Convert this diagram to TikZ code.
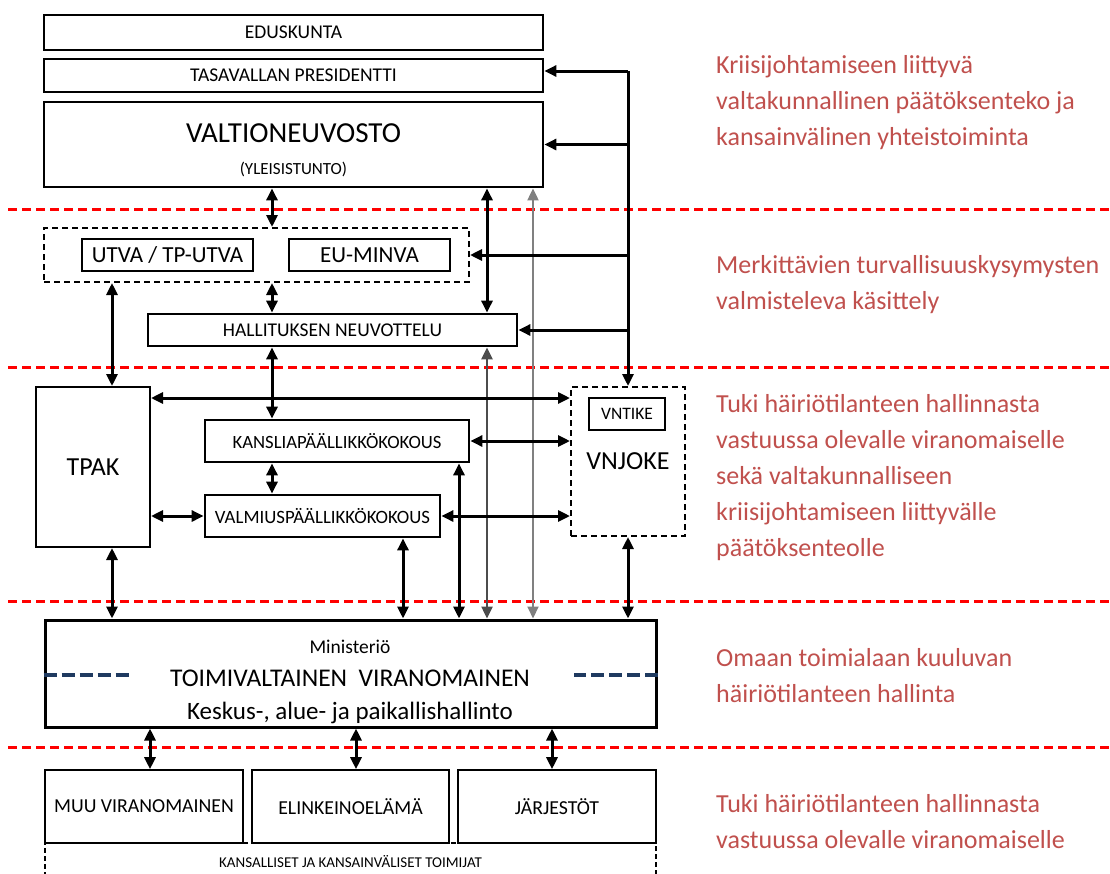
\documentclass[tikz,border=0pt]{standalone}
\usepackage{fontspec}
\setmainfont{Carlito}
\usetikzlibrary{arrows.meta}
\definecolor{crimson}{HTML}{C0504D}
\definecolor{navy}{HTML}{1F3A60}

\begin{document}
\begin{tikzpicture}[x=1pt,y=-1pt]
        \tikzset{box/.style = {draw, line width=2.8pt, inner sep=0pt, align=center},
            thinbox/.style = {draw, line width=1.6pt, inner sep=0pt},
            dashbox/.style = {draw, line width=2pt, dash pattern=on 6pt off 4pt, inner sep=0pt},
            link/.style = {{Triangle[length=12pt,width=11pt]}-{Triangle[length=12pt,width=11pt]}, line width=3pt},
            feed/.style = {-{Triangle[length=12pt,width=11pt]}, line width=3pt},
            level/.style = {red, line width=3pt, dash pattern=on 9pt off 5pt},
            note/.style = {crimson, align=left, anchor=base west, inner sep=0pt, font=\fontsize{26}{36}\selectfont}};
        \useasboundingbox (0,0) rectangle (1110,873);
        % tasot
        \foreach \y in {209,367,601,747}
            \draw[level] (8,\y) -- (1110,\y);
        % ylin taso
        \node[box, minimum width=499pt, minimum height=35pt, font=\fontsize{19.5}{22}\selectfont] (eduskunta) at (293.5,32.5) {EDUSKUNTA};
        \node[box, minimum width=499pt, minimum height=33pt, font=\fontsize{19.5}{22}\selectfont] (presidentti) at (293.5,75.5) {TASAVALLAN PRESIDENTTI};
        \node[box, minimum width=499pt, minimum height=85pt] (vn) at (293.5,144.5) {};
        \node[font=\fontsize{29}{32}\selectfont] (vnTitle) at (293.5,133) {VALTIONEUVOSTO};
        \node[font=\fontsize{17}{19}\selectfont] (vnSub) at (293.5,169) {(YLEISISTUNTO)};
        % valmistelu
        \node[dashbox, minimum width=425pt, minimum height=54pt] (valmistelu) at (256.5,255) {};
        \node[thinbox, minimum width=171pt, minimum height=32pt, font=\fontsize{23}{25}\selectfont] (utva) at (167.5,255) {UTVA / TP-UTVA};
        \node[thinbox, minimum width=161pt, minimum height=32pt, font=\fontsize{23}{25}\selectfont] (euminva) at (369.5,255) {EU-MINVA};
        \node[box, minimum width=369pt, minimum height=32pt, font=\fontsize{19.5}{22}\selectfont] (hallitus) at (332.5,330) {HALLITUKSEN NEUVOTTELU};
        % tuki
        \node[box, line width=2pt, minimum width=114pt, minimum height=160pt, font=\fontsize{26}{28}\selectfont] (tpak) at (93,467) {TPAK};
        \node[box, minimum width=264pt, minimum height=42pt, font=\fontsize{18.7}{21}\selectfont] (kanslia) at (337,441) {KANSLIAPÄÄLLIKKÖKOKOUS};
        \node[box, minimum width=235pt, minimum height=42pt, font=\fontsize{18.8}{21}\selectfont] (valmius) at (322.5,516) {VALMIUSPÄÄLLIKKÖKOKOUS};
        \node[dashbox, minimum width=114pt, minimum height=149pt, font=\fontsize{26}{28}\selectfont] (vnjoke) at (628,461.5) {VNJOKE};
        \node[thinbox, line width=2pt, minimum width=76pt, minimum height=32pt, font=\fontsize{17.5}{19}\selectfont] (vntike) at (627,414) {VNTIKE};
        % toimivaltainen
        \node[box, line width=3pt, minimum width=611pt, minimum height=107pt] (ministerio) at (350.5,673.5) {};
        \node[anchor=base, font=\fontsize{19.5}{22}\selectfont] (minTitle) at (350,653) {Ministeriö};
        \node[anchor=base, font=\fontsize{25.5}{28}\selectfont] (minMain) at (350,686) {TOIMIVALTAINEN\ \ VIRANOMAINEN};
        \node[anchor=base, font=\fontsize{25}{27}\selectfont] (minSub) at (350,719) {Keskus-, alue- ja paikallishallinto};
        \draw[navy, line width=4pt, dash pattern=on 13pt off 5pt] ([yshift=-1.5pt]ministerio.west) -- ++(85,0);
        \draw[navy, line width=4pt, dash pattern=on 13pt off 5pt] ([yshift=-1.5pt]ministerio.east) -- ++(-84,0);
        % muut toimijat
        \node[thinbox, minimum width=198pt, minimum height=73pt, font=\fontsize{19.8}{22}\selectfont] (muu) at (144,806.5) {MUU VIRANOMAINEN};
        \node[thinbox, minimum width=197pt, minimum height=73pt, font=\fontsize{19.8}{22}\selectfont] (elinkeino) at (350.5,806.5) {ELINKEINOELÄMÄ};
        \node[thinbox, minimum width=198pt, minimum height=73pt, font=\fontsize{19.8}{22}\selectfont] (jarjestot) at (557,806.5) {JÄRJESTÖT};
        \node[draw, line width=1.3pt, dash pattern=on 5pt off 3pt, inner sep=0pt, minimum width=611pt, minimum height=37pt, font=\fontsize{15}{16}\selectfont] (toimijat) at (350.5,861.5) {KANSALLISET JA KANSAINVÄLISET TOIMIJAT};
        % sarakkeet
        \coordinate (colTpak) at (112,0);
        \coordinate (colMid) at (272,0);
        \coordinate (colValm) at (403,0);
        \coordinate (colKans) at (459,0);
        \coordinate (colHall) at (487,0);
        \coordinate (colVn) at (533,0);
        \coordinate (colMuu) at (150,0);
        \coordinate (colElin) at (356,0);
        \coordinate (colJarj) at (552,0);
        \coordinate (bus) at (628,71);
        % yhteydet
        \draw[link] (colMid |- vn.south) -- (colMid |- valmistelu.north);
        \draw[link] (colMid |- valmistelu.south) -- (colMid |- hallitus.north);
        \draw[link] (colTpak |- valmistelu.south) -- (colTpak |- tpak.north);
        \draw[link] (colMid |- hallitus.south) -- (colMid |- kanslia.north);
        \draw[link] (colMid |- kanslia.south) -- (colMid |- valmius.north);
        \draw[link] (colHall |- vn.south) -- (colHall |- hallitus.north);
        \draw[link, black!70, line width=2.4pt] (colHall |- hallitus.south) -- (colHall |- ministerio.north);
        \draw[link, black!50, line width=2pt] (colVn |- vn.south) -- (colVn |- ministerio.north);
        \draw[link] (colTpak |- tpak.south) -- (colTpak |- ministerio.north);
        \draw[link] (colValm |- valmius.south) -- (colValm |- ministerio.north);
        \draw[link] (colKans |- kanslia.south) -- (colKans |- ministerio.north);
        \draw[link] (vnjoke.south) -- (vnjoke.south |- ministerio.north);
        \draw[link] ([yshift=-12pt]tpak.north east) -- ([yshift=-12pt]vnjoke.north west);
        \draw[link] (kanslia.east) -- (kanslia.east -| vnjoke.west);
        \draw[link] (tpak.east |- valmius.west) -- (valmius.west);
        \draw[link] (valmius.east) -- (valmius.east -| vnjoke.west);
        \draw[feed] (bus) -- (bus |- vnjoke.north);
        \draw[feed] (bus) -- (bus -| presidentti.east);
        \draw[feed] (bus |- vn.east) -- (vn.east);
        \draw[feed] (bus |- valmistelu.east) -- (valmistelu.east);
        \draw[feed] (bus |- hallitus.east) -- (hallitus.east);
        \draw[link] (colMuu |- ministerio.south) -- (colMuu |- muu.north);
        \draw[link] (colElin |- ministerio.south) -- (colElin |- elinkeino.north);
        \draw[link] (colJarj |- ministerio.south) -- (colJarj |- jarjestot.north);
        % selitteet (ankkuri = viimeisen rivin perusviiva)
        \node[note] (taso1) at (716,145) {Kriisijohtamiseen liittyvä\\valtakunnallinen päätöksenteko ja\\kansainvälinen yhteistoiminta};
        \node[note] (taso2) at (716,309) {Merkittävien turvallisuuskysymysten\\valmisteleva käsittely};
        \node[note] (taso3) at (716,556) {Tuki häiriötilanteen hallinnasta\\vastuussa olevalle viranomaiselle\\sekä valtakunnalliseen\\kriisijohtamiseen liittyvälle\\päätöksenteolle};
        \node[note] (taso4) at (716,702) {Omaan toimialaan kuuluvan\\häiriötilanteen hallinta};
        \node[note] (taso5) at (716,848) {Tuki häiriötilanteen hallinnasta\\vastuussa olevalle viranomaiselle};
    \end{tikzpicture}
\end{document}
